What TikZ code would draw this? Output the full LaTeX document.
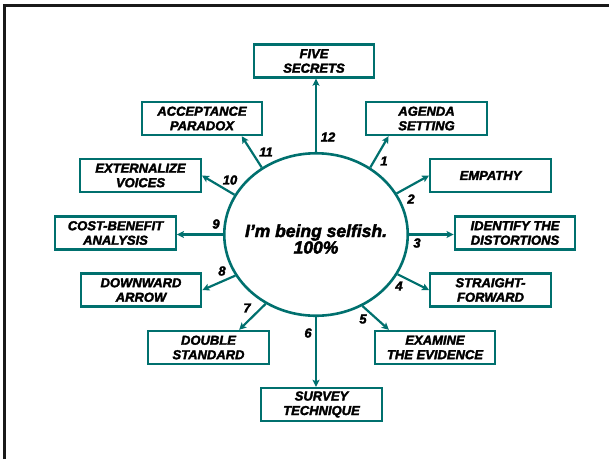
\documentclass[tikz,border=0pt]{standalone}
\usepackage{fontspec}
\setmainfont{Liberation Sans}[BoldItalicFeatures={FakeBold=2.5}]
\usetikzlibrary{shapes.geometric,arrows.meta,calc}
\definecolor{tealline}{RGB}{0,112,110}
\begin{document}
\begin{tikzpicture}[x=1pt,y=-1pt,
  boxnode/.style={draw=tealline, line width=2.4pt, minimum width=120.5pt,
    minimum height=33pt, inner sep=0pt, align=center,
    font=\fontsize{13}{14.5}\selectfont\bfseries\itshape},
  numlabel/.style={inner sep=0pt, font=\fontsize{13}{14}\selectfont\bfseries\itshape},
  arr/.style={draw=tealline, line width=2.2pt,
    -{Stealth[length=7pt,width=7pt,inset=1.5pt]}}]
\useasboundingbox (0,0) rectangle (609,459);
% page frame (left and top edges)
\draw[line width=2.5pt, black!90] (4.7,459) -- (4.7,5.3) -- (609,5.3);

% central thought
\node[ellipse, draw=tealline, line width=2.6pt, minimum width=183.5pt,
  minimum height=162.5pt, inner sep=0pt] (c) at (316,234.5) {};
\node[align=center, inner sep=0pt,
  font=\fontsize{17.5}{16.5}\selectfont\bfseries\itshape] (t) at (316,239)
  {I’m being selfish.\\100\%};

% techniques
\node[boxnode] (b12) at (314,61)    {FIVE\\SECRETS};
\node[boxnode] (b1)  at (426.5,118.5) {AGENDA\\SETTING};
\node[boxnode] (b2)  at (490.5,175.5) {EMPATHY};
\node[boxnode] (b3)  at (515,233)   {IDENTIFY THE\\DISTORTIONS};
\node[boxnode] (b4)  at (490.5,290) {STRAIGHT-\\FORWARD};
\node[boxnode] (b5)  at (435,347.5) {EXAMINE\\THE EVIDENCE};
\node[boxnode] (b6)  at (321.5,404.5) {SURVEY\\TECHNIQUE};
\node[boxnode] (b7)  at (208.5,347.5) {DOUBLE\\STANDARD};
\node[boxnode] (b8)  at (141,290)   {DOWNWARD\\ARROW};
\node[boxnode] (b9)  at (115.5,233) {COST-BENEFIT\\ANALYSIS};
\node[boxnode] (b10) at (140.5,175.5) {EXTERNALIZE\\VOICES};
\node[boxnode] (b11) at (202,118.5) {ACCEPTANCE\\PARADOX};

% connectors
\draw[arr] (c.north) -- (c.north |- b12.south);
\draw[arr] (c.51)    -- (b1.205);
\draw[arr] (c.27)    -- (b2.west);
\draw[arr] (c.east)  -- (c.east -| b3.west);
\draw[arr] (c.-26)   -- (b4.west);
\draw[arr] (c.-57)   -- (b5.159);
\draw[arr] (c.south) -- (c.south |- b6.north);
\draw[arr] (c.-126)  -- (b7.30);
\draw[arr] (c.-153)  -- (b8.east);
\draw[arr] (c.west)  -- (c.west -| b9.east);
\draw[arr] (c.154.5) -- (b10.east);
\draw[arr] (c.129.7) -- (b11.-24);

% step numbers
\node[numlabel] (l12) at (328,137) {12};
\node[numlabel] (l1)  at (384,161) {1};
\node[numlabel] (l2)  at (411,199) {2};
\node[numlabel] (l3)  at (417,243) {3};
\node[numlabel] (l4)  at (399,286) {4};
\node[numlabel] (l5)  at (363,319) {5};
\node[numlabel] (l6)  at (308,333) {6};
\node[numlabel] (l7)  at (247,308) {7};
\node[numlabel] (l8)  at (222,271) {8};
\node[numlabel] (l9)  at (216,224) {9};
\node[numlabel] (l10) at (230,180) {10};
\node[numlabel] (l11) at (266,152) {11};
\end{tikzpicture}
\end{document}
